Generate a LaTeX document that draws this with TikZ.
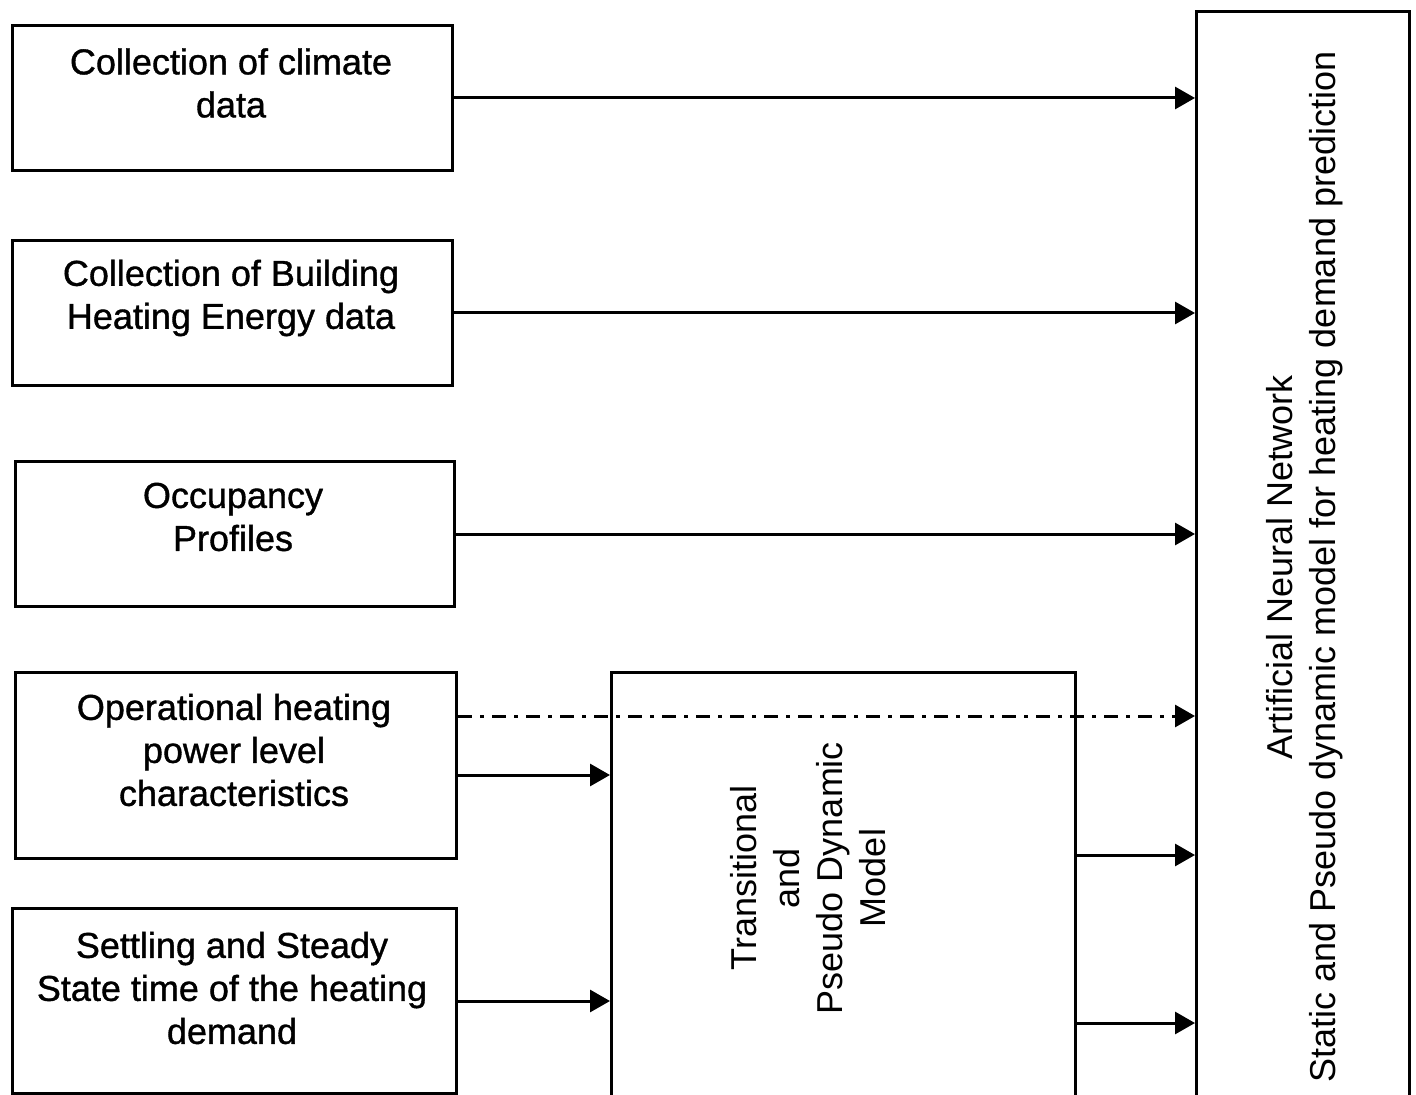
\documentclass[tikz,border=0pt]{standalone}
\usepackage{fontspec}
\setmainfont{Liberation Sans}
\newfontfamily\boxfont[FakeBold=1]{Liberation Sans}
\usetikzlibrary{arrows.meta,calc}
\begin{document}
\begin{tikzpicture}[x=0.5pt,y=-0.5pt,
  box/.style={draw,line width=1.5pt,rectangle,inner sep=0pt,anchor=north west},
  lbl/.style={align=center,inner sep=0pt,font=\boxfont\fontsize{18}{21.5}\selectfont},
  rlbl/.style={align=center,inner sep=0pt,rotate=90,font=\fontsize{18}{21.5}\selectfont},
  arr/.style={line width=1.5pt,-{Triangle[length=10pt,width=11pt]}},
  dasharr/.style={arr,dash pattern=on 7pt off 4pt on 2pt off 4pt}]
\useasboundingbox[fill=white] (0,0) rectangle (1416,1095);
% boxes
\node[box,minimum width=220pt,minimum height=72.5pt] (b1) at (11,24) {};
\node[box,minimum width=220pt,minimum height=72.5pt] (b2) at (11,239) {};
\node[box,minimum width=219.5pt,minimum height=72.5pt] (b3) at (14,460) {};
\node[box,minimum width=220.5pt,minimum height=93pt] (b4) at (14,671) {};
\node[box,minimum width=222pt,minimum height=92.5pt] (b5) at (11,907) {};
\node[box,minimum width=232pt,minimum height=250pt] (mid) at (610,671) {};
\node[box,minimum width=106.5pt,minimum height=600pt] (ann) at (1195,10) {};
% texts
\node[lbl] (t1) at (231,83) {Collection of climate\\data};
\node[lbl] (t2) at (231,298) {Collection of Building\\Heating Energy data};
\node[lbl] (t3) at (233,517) {Occupancy\\Profiles};
\node[lbl] (t4) at (234,750) {Operational heating\\power level\\characteristics};
\node[lbl] (t5) at (232,988) {Settling and Steady\\State time of the heating\\demand};
\node[rlbl] (tm) at (808,878) {Transitional\\and\\Pseudo Dynamic\\Model};
\node[rlbl] (ta) at (1305,567) {Artificial Neural Network\\Static and Pseudo dynamic model for heating demand prediction};
% connector points
\coordinate (c4d) at ($(b4.north east)+(0,45)$);
\coordinate (c4) at ($(b4.north east)+(0,104)$);
\coordinate (m1) at ($(mid.north east)+(0,184)$);
\coordinate (m2) at ($(mid.north east)+(0,352)$);
% connectors
\draw[arr] (b1.east) -- (b1.east -| ann.west);
\draw[arr] (b2.east) -- (b2.east -| ann.west);
\draw[arr] (b3.east) -- (b3.east -| ann.west);
\draw[dasharr] (c4d) -- (c4d -| ann.west);
\draw[arr] (c4) -- (c4 -| mid.west);
\draw[arr] (b5.east) -- (b5.east -| mid.west);
\draw[arr] (m1) -- (m1 -| ann.west);
\draw[arr] (m2) -- (m2 -| ann.west);
\end{tikzpicture}
\end{document}
